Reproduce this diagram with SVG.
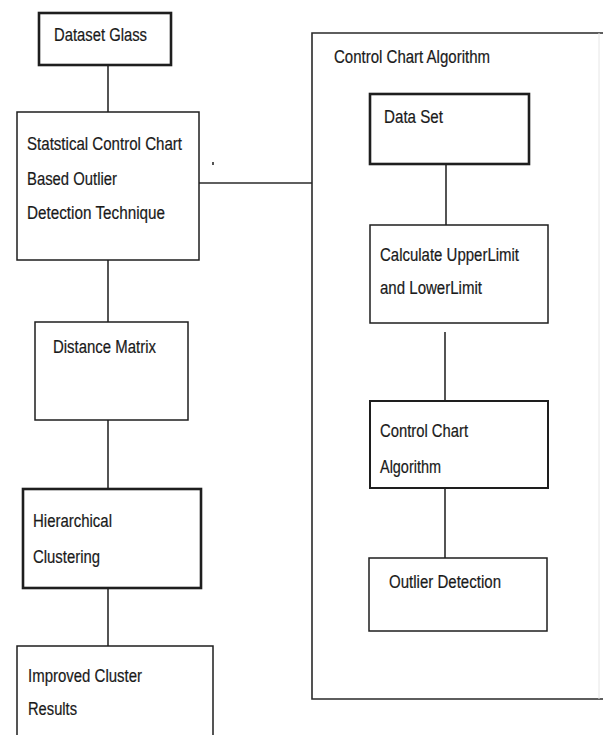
<svg xmlns="http://www.w3.org/2000/svg" width="603" height="735" viewBox="0 0 603 735">
<style>
.box{fill:#fff;stroke:#1e1e1e;stroke-width:1.5}
.thick{stroke-width:2.6}
.conn{stroke:#2a2a2a;stroke-width:1.6;fill:none}
text{font-family:"Liberation Sans",Arial,sans-serif;font-size:17.5px;fill:#1a1a1a;stroke:#1a1a1a;stroke-width:0.2}
</style>
<rect width="603" height="735" fill="#fff"/>
<g id="connectors">
<line class="conn" x1="108" y1="65" x2="108" y2="112"/>
<line class="conn" x1="108" y1="260" x2="108" y2="322"/>
<line class="conn" x1="108" y1="420" x2="108" y2="489"/>
<line class="conn" x1="108" y1="588" x2="108" y2="646"/>
<line class="conn" x1="199" y1="183" x2="312" y2="183"/>
<line class="conn" x1="446" y1="164" x2="446" y2="225"/>
<line class="conn" x1="445" y1="332" x2="445" y2="401"/>
<line class="conn" x1="445" y1="488" x2="445" y2="558"/>
<line class="conn" x1="213" y1="162" x2="213" y2="165" stroke-width="1.4"/>
</g>
<g id="control-chart-group">
<path class="conn" d="M603 33 H312 V699 H603" stroke-width="1.8"/>
<line x1="599" y1="33" x2="599" y2="699" stroke="#e6e6e6" stroke-width="1"/>
<text x="334" y="63" textLength="156" lengthAdjust="spacingAndGlyphs">Control Chart Algorithm</text>
</g>
<g id="dataset-glass">
<rect class="box thick" x="39" y="13" width="132" height="52"/>
<text x="54" y="41" textLength="93" lengthAdjust="spacingAndGlyphs">Dataset Glass</text>
</g>
<g id="statistical">
<rect class="box" x="17" y="112" width="182" height="148"/>
<text x="27" y="150" textLength="155" lengthAdjust="spacingAndGlyphs">Statstical Control Chart</text>
<text x="27" y="185" textLength="90" lengthAdjust="spacingAndGlyphs">Based Outlier</text>
<text x="27" y="219" textLength="138" lengthAdjust="spacingAndGlyphs">Detection Technique</text>
</g>
<g id="distance-matrix">
<rect class="box" x="35" y="322" width="153" height="98"/>
<text x="53" y="353" textLength="103" lengthAdjust="spacingAndGlyphs">Distance Matrix</text>
</g>
<g id="hierarchical">
<rect class="box thick" x="23" y="489" width="178" height="99"/>
<text x="33" y="527" textLength="79" lengthAdjust="spacingAndGlyphs">Hierarchical</text>
<text x="33" y="563" textLength="67" lengthAdjust="spacingAndGlyphs">Clustering</text>
</g>
<g id="improved">
<path class="box" d="M17 740 V646 H213 V740"/>
<text x="28" y="682" textLength="114" lengthAdjust="spacingAndGlyphs">Improved Cluster</text>
<text x="28" y="715" textLength="49" lengthAdjust="spacingAndGlyphs">Results</text>
</g>
<g id="data-set">
<rect class="box thick" x="370" y="94" width="159" height="70"/>
<text x="384" y="123" textLength="59" lengthAdjust="spacingAndGlyphs">Data Set</text>
</g>
<g id="calculate">
<rect class="box" x="370" y="225" width="178" height="98"/>
<text x="380" y="261" textLength="139" lengthAdjust="spacingAndGlyphs">Calculate UpperLimit</text>
<text x="380" y="294" textLength="102" lengthAdjust="spacingAndGlyphs">and LowerLimit</text>
</g>
<g id="control-chart-algorithm">
<rect class="box" x="370" y="401" width="178" height="87" style="stroke-width:2"/>
<text x="380" y="437" textLength="88" lengthAdjust="spacingAndGlyphs">Control Chart</text>
<text x="380" y="473" textLength="61" lengthAdjust="spacingAndGlyphs">Algorithm</text>
</g>
<g id="outlier-detection">
<rect class="box" x="369" y="558" width="178" height="73"/>
<text x="389" y="588" textLength="112" lengthAdjust="spacingAndGlyphs">Outlier Detection</text>
</g>
</svg>
